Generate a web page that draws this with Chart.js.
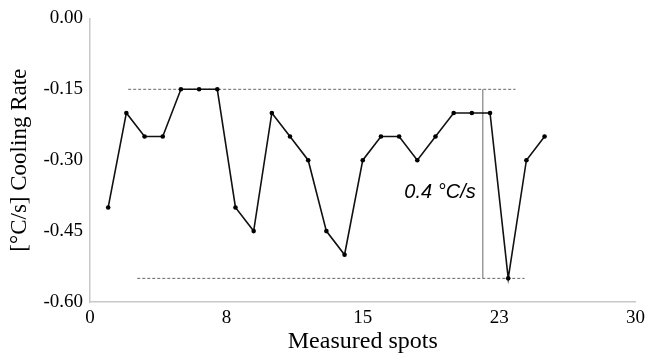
<!DOCTYPE html>
<html>
<head>
<meta charset="utf-8">
<script src="https://cdn.jsdelivr.net/npm/chart.js@4"></script>
<style>
  html, body { margin: 0; padding: 0; background: #fff; }
  #wrap { width: 650px; height: 356px; }
</style>
</head>
<body>
<div id="wrap"><canvas id="coolingChart" width="650" height="356"></canvas></div>
<script>
// Measured spots and cooling rates
const spots = [1, 2, 3, 4, 5, 6, 7, 8, 9, 10, 11, 12, 13, 14, 15, 16, 17, 18, 19, 20, 21, 22, 23, 24, 25];
const coolingRate = [-0.40, -0.20, -0.25, -0.25, -0.15, -0.15, -0.15, -0.40, -0.45, -0.20, -0.25, -0.30, -0.45, -0.50, -0.30, -0.25, -0.25, -0.30, -0.25, -0.20, -0.20, -0.20, -0.55, -0.30, -0.25];

// reference lines (max / min) and the span marker
const upperLineX = [2.1, 23.4];
const upperLineY = [-0.15, -0.15];
const lowerLineX = [2.6, 23.9];
const lowerLineY = [-0.55, -0.55];
const spanX = [21.6, 21.6];
const spanY = [-0.15, -0.55];
const spanLabel = "0.4 °C/s";
const spanLabelPos = [19.25, -0.368];

// tick labels
const xTickValues = [0, 7.5, 15, 22.5, 30];
const xTickLabels = ["0", "8", "15", "23", "30"];
const yTickValues = [0, -0.15, -0.3, -0.45, -0.6];
const yTickLabels = ["0.00", "-0.15", "-0.30", "-0.45", "-0.60"];

const toPoints = (xs, ys) => xs.map((x, i) => ({ x: x, y: ys[i] }));

const serif = "'Liberation Serif', 'Times New Roman', serif";

const spanTextPlugin = {
  id: "spanText",
  afterDatasetsDraw(chart) {
    const ctx = chart.ctx;
    const x = chart.scales.x.getPixelForValue(spanLabelPos[0]);
    const y = chart.scales.y.getPixelForValue(spanLabelPos[1]);
    ctx.save();
    ctx.font = "italic 20px 'Liberation Sans', Arial, sans-serif";
    ctx.fillStyle = "#000";
    ctx.textAlign = "center";
    ctx.textBaseline = "middle";
    ctx.fillText(spanLabel, x, y);
    ctx.restore();
  },
};

document.addEventListener("DOMContentLoaded", function () {
  const ctx = document.getElementById("coolingChart").getContext("2d");
  new Chart(ctx, {
    type: "scatter",
    data: {
      datasets: [
        {
          label: "Cooling rate",
          data: toPoints(spots, coolingRate),
          showLine: true,
          borderColor: "#111",
          borderWidth: 1.6,
          pointRadius: 2.3,
          pointBackgroundColor: "#000",
          pointBorderWidth: 0,
          order: 0,
        },
        {
          label: "upper",
          data: toPoints(upperLineX, upperLineY),
          showLine: true,
          borderColor: "#666",
          borderWidth: 1,
          borderDash: [3, 2],
          pointRadius: 0,
          order: 2,
        },
        {
          label: "lower",
          data: toPoints(lowerLineX, lowerLineY),
          showLine: true,
          borderColor: "#666",
          borderWidth: 1,
          borderDash: [3, 2],
          pointRadius: 0,
          order: 2,
        },
        {
          label: "span",
          data: toPoints(spanX, spanY),
          showLine: true,
          borderColor: "#9a9a9a",
          borderWidth: 1.5,
          pointRadius: 0,
          order: 1,
        },
      ],
    },
    options: {
      responsive: false,
      animation: false,
      layout: { padding: { top: 18, right: 9, bottom: 0, left: 0 } },
      plugins: {
        legend: { display: false },
        tooltip: { enabled: false },
      },
      scales: {
        x: {
          type: "linear",
          min: 0,
          max: 30,
          afterFit: (scale) => { scale.height = 54; },
          afterBuildTicks: (scale) => {
            scale.ticks = xTickValues.map((v) => ({ value: v }));
          },
          grid: { display: false, drawTicks: false },
          border: { display: true, color: "#c8c8c8", width: 1.5 },
          ticks: {
            padding: 5,
            color: "#000",
            font: { family: serif, size: 19 },
            maxRotation: 0,
            callback: (v) => xTickLabels[xTickValues.indexOf(v)],
          },
          title: {
            display: true,
            text: "Measured spots",
            color: "#000",
            font: { family: serif, size: 24 },
            padding: { top: 2, bottom: 0 },
          },
        },
        y: {
          type: "linear",
          min: -0.6,
          max: 0,
          afterFit: (scale) => { scale.width = 90; },
          afterBuildTicks: (scale) => {
            scale.ticks = yTickValues.map((v) => ({ value: v }));
          },
          grid: { display: false, drawTicks: false },
          border: { display: true, color: "#c8c8c8", width: 1.5 },
          ticks: {
            padding: 7,
            color: "#000",
            font: { family: serif, size: 19 },
            callback: (v) => yTickLabels[yTickValues.findIndex((t) => Math.abs(t - v) < 1e-9)],
          },
          title: {
            display: true,
            text: "[°C/s] Cooling Rate",
            color: "#000",
            font: { family: serif, size: 23 },
            padding: { top: 6, bottom: 0 },
          },
        },
      },
    },
    plugins: [spanTextPlugin],
  });
});
</script>
</body>
</html>
